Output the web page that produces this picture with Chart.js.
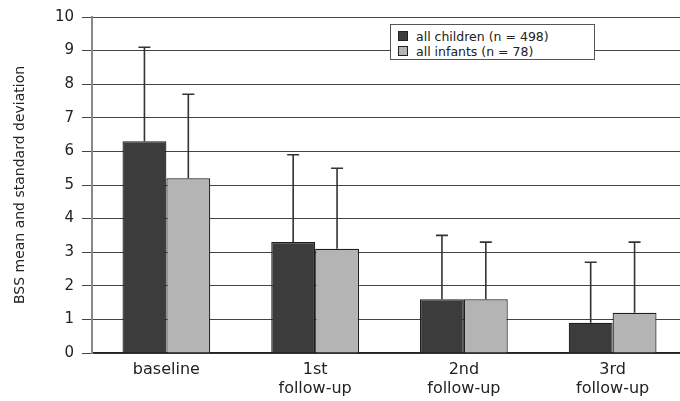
<!DOCTYPE html>
<html>
<head>
<meta charset="utf-8">
<script src="https://cdn.jsdelivr.net/npm/chart.js@4/dist/chart.umd.min.js"></script>
<style>
    body { margin: 0; background: #fff; overflow: hidden; }
    #wrap { position: relative; width: 690px; height: 401px; }
    #legend {
        position: absolute; left: 390px; top: 24px; width: 205px; height: 36px;
        border: 1px solid #555; background: #fff;
        font-family: "DejaVu Sans", sans-serif; font-size: 12.5px; color: #222;
        padding: 4px 0 0 7px; box-sizing: border-box; line-height: 15px;
    }
    #legend .swatch {
        display: inline-block; width: 8px; height: 8px; border: 1px solid #222;
        margin-right: 8px; vertical-align: 0px;
    }
</style>
</head>
<body>
<div id="wrap">
    <canvas id="chart" width="690" height="401"></canvas>
    <div id="legend"></div>
</div>
<script>
// -----------------------------
// Data
// -----------------------------
const categories = [['baseline'], ['1st', 'follow-up'], ['2nd', 'follow-up'], ['3rd', 'follow-up']];
const seriesNames = ['all children (n = 498)', 'all infants (n = 78)'];
const childrenMean = [6.3, 3.3, 1.6, 0.9];
const childrenUpper = [9.1, 5.9, 3.5, 2.7];   // mean + SD
const infantsMean = [5.2, 3.1, 1.6, 1.2];
const infantsUpper = [7.7, 5.5, 3.3, 3.3];    // mean + SD
const yTicks = [0, 1, 2, 3, 4, 5, 6, 7, 8, 9, 10];

const colors = {
    children: '#3c3c3c',
    infants: '#b4b4b4',
    border: '#1e1e1e',
};

// -----------------------------
// Error bar plugin (upper whisker only)
// -----------------------------
const upperBars = [childrenUpper, infantsUpper];

const errorBarPlugin = {
    id: 'errorBars',
    afterDatasetsDraw(chart) {
        const ctx = chart.ctx;
        const yScale = chart.scales.y;
        ctx.save();
        ctx.strokeStyle = '#333';
        ctx.lineWidth = 1.6;
        chart.data.datasets.forEach((ds, i) => {
            const meta = chart.getDatasetMeta(i);
            meta.data.forEach((bar, j) => {
                const top = yScale.getPixelForValue(upperBars[i][j]);
                ctx.beginPath();
                ctx.moveTo(bar.x, bar.y);
                ctx.lineTo(bar.x, top);
                ctx.moveTo(bar.x - 6, top);
                ctx.lineTo(bar.x + 6, top);
                ctx.stroke();
            });
        });
        ctx.restore();
    }
};

// -----------------------------
// Chart
// -----------------------------
const font = { family: '"DejaVu Sans", sans-serif' };

new Chart(document.getElementById('chart').getContext('2d'), {
    type: 'bar',
    data: {
        labels: categories,
        datasets: [
            {
                label: seriesNames[0],
                data: childrenMean,
                backgroundColor: colors.children,
                borderColor: colors.border,
                borderWidth: 1.2,
                barPercentage: 1,
                categoryPercentage: 0.59,
            },
            {
                label: seriesNames[1],
                data: infantsMean,
                backgroundColor: colors.infants,
                borderColor: colors.border,
                borderWidth: 1.2,
                barPercentage: 1,
                categoryPercentage: 0.59,
            }
        ]
    },
    options: {
        responsive: false,
        animation: false,
        layout: { padding: { top: 15, right: 3, left: 0, bottom: 0 } },
        plugins: {
            legend: { display: false },
            tooltip: { enabled: false },
        },
        scales: {
            x: {
                grid: { display: false },
                border: { color: '#222', width: 1.5 },
                ticks: {
                    color: '#222',
                    font: { ...font, size: 16, lineHeight: 1.15 },
                    padding: 0,
                    maxRotation: 0,
                },
                afterFit(scale) { scale.height = 48; },
            },
            y: {
                min: 0,
                max: 10,
                afterBuildTicks(scale) { scale.ticks = yTicks.map(v => ({ value: v })); },
                grid: { color: '#444', lineWidth: 1, tickLength: 10 },
                border: { color: '#888', width: 2 },
                ticks: {
                    color: '#222',
                    font: { ...font, size: 15 },
                    padding: 8,
                },
                title: {
                    display: true,
                    text: 'BSS mean and standard deviation',
                    color: '#222',
                    font: { ...font, size: 14 },
                    padding: { top: 12, bottom: 4 },
                },
                afterFit(scale) { scale.width = 92; },
            }
        }
    },
    plugins: [errorBarPlugin]
});

// -----------------------------
// Legend
// -----------------------------
const legend = document.getElementById('legend');
[colors.children, colors.infants].forEach((c, i) => {
    const row = document.createElement('div');
    const sw = document.createElement('span');
    sw.className = 'swatch';
    sw.style.background = c;
    row.appendChild(sw);
    row.appendChild(document.createTextNode(seriesNames[i]));
    legend.appendChild(row);
});
</script>
</body>
</html>
